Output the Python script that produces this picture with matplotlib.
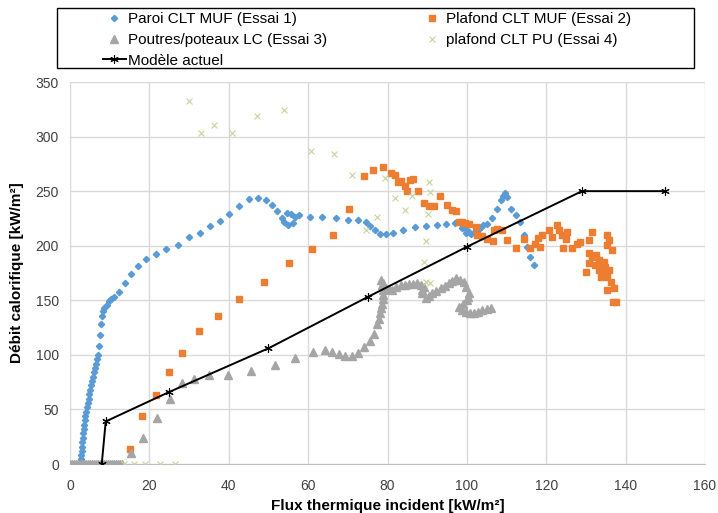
import matplotlib.pyplot as plt
from matplotlib.patches import Rectangle

plt.rcParams['font.family'] = ['Liberation Sans', 'DejaVu Sans']

# -------------------- Data --------------------
# Essai 1 : Paroi CLT MUF
essai1_x = [0, 0.5, 1, 1.5, 2, 2.4, 2.6, 2.7, 2.8, 2.9, 3.0, 3.1, 3.2, 3.3, 3.5, 3.6, 3.8, 3.9,
            4.1, 4.3, 4.5, 4.7, 4.9, 5.1, 5.3, 5.5, 5.8, 6.0, 6.3, 6.5, 6.8, 7.1, 7.3, 7.5, 7.7,
            8.0, 8.3, 8.6, 9.2, 9.8, 10.4, 11.1, 12.3, 13.9, 15.4, 17.2, 19.2, 21.6, 24.3, 27.1,
            30, 32.7, 35.3, 37.8, 40, 42.5, 45.1, 47.4, 49.3, 51, 52.2, 53.5, 54.7, 55.8, 56.6,
            56.2, 55, 54, 57.7, 60.4, 63.6, 66.9, 70.1, 72.6, 74.5, 75.7, 76.8, 78.1, 79.5, 81.3,
            84, 87, 89.8, 92.4, 94.8, 97, 98.8, 99.7, 100.9, 102.2, 103.5, 105.1, 99, 100, 101,
            102, 103, 104, 106.4, 107.6, 108.5, 109.2, 109.7, 110.2, 111, 112.3, 113.5, 114.4,
            115.2, 115.8, 116.9]
essai1_y = [0, 0, 0, 0, 0, 0, 2, 5, 8, 12, 16, 20, 24, 28, 32, 36, 40, 44,
            48, 52, 56, 60, 64, 68, 72, 76, 80, 84, 88, 92, 96, 100, 108, 118, 128,
            136, 140, 143, 146, 149, 151, 153, 158, 166, 174, 181, 188, 192, 197, 201,
            208, 212, 218, 223, 229, 236, 242.5, 244, 242, 237, 232, 225, 229.6, 229, 226,
            221, 219, 222, 228, 226.5, 226, 225.5, 224, 224, 222, 218, 214, 211, 211, 212,
            214.5, 217, 218.5, 219, 220, 221, 216, 212, 212, 214, 217, 220, 218, 214, 211,
            213, 215, 219, 225, 234, 242, 246, 248.5, 245, 234, 228, 222, 210,
            199, 190, 182]

# Essai 2 : Plafond CLT MUF
essai2_x = [15.1, 18.2, 21.6, 24.9, 28.3, 32.5, 37.3, 42.6, 49, 55.2, 61, 66.2, 70.4, 74, 76.4,
            78.8, 80.8, 81.8, 82.6, 83.5, 84.4, 85, 85.6, 86.5, 87.7, 89.2, 90.4, 91.7, 93.2,
            94.9, 96.3, 97.3, 98, 98.8, 99.5, 100.5, 102.3, 102.6, 103.9, 105, 106.7, 106.8,
            107.6, 108.9, 110.2, 112.3, 114.3, 115.9, 117.2, 118, 118.4, 119, 120.7, 121.5,
            122.7, 123.2, 124, 124.9, 125.3, 124.2, 126.5, 127.8, 128.6, 130.7, 131.6, 130.7,
            131.6, 132.6, 133.2, 133.7, 134.5, 134.9, 132.4, 133.2, 134.5, 135.8, 133.7, 135.3,
            136.2, 135.3, 137, 136.8, 137.6, 135.3, 136.6, 135.3, 135.9, 129.9, 130.7]
essai2_y = [14, 44, 63, 84, 102, 122, 136, 151, 167, 184, 197, 210, 234, 264, 269,
            272, 267, 265, 258, 259, 255, 250, 260, 261, 250, 239, 236, 236, 246,
            237, 233, 232, 222, 222, 221, 220, 217, 210, 209, 206.6, 204, 214,
            215.6, 214, 205, 197.5, 206, 198, 202, 207, 199, 209.7, 214, 208,
            219, 214, 209.7, 206.6, 212.7, 197.5, 197.5, 202, 203.5, 205, 212.7, 193,
            190, 191.4, 186.8, 182.2, 185, 180.7, 182.2, 177.7, 174.6, 177.7, 171.6, 171.6,
            167, 159, 161, 148.6, 148.6, 200.5, 196, 209.7, 205, 176, 183.8]

# Essai 3 : Poutres/poteaux LC
essai3_x = [0, 0.5, 1, 1.5, 2, 2.5, 3, 3.5, 4, 4.5, 5, 5.5, 6, 6.5, 7, 7.5, 8, 8.5, 9, 9.5,
            10, 10.5, 11, 11.5, 12, 12.5, 13, 15.3, 18.5, 22, 25.2, 28.3, 31.2, 35, 39.9, 45.7,
            51.6, 56.8, 61.3, 64.2, 66.1, 67.8, 69.3, 71, 72.6, 74.2, 75.5, 76.6, 77.4, 77.8,
            78.1, 78.4, 78.7, 78.9, 78.9, 78.8, 78.7, 78.3, 78.9, 79.5, 80.3, 81.2, 82.2, 83.3,
            84.3, 85.4, 86.5, 87.5, 88.4, 89.2, 88.8, 88.8, 89.6, 90.4, 91.3, 92.3, 93.4, 94.5,
            95.5, 96.3, 97.2, 98.2, 99.2, 99.9, 100.5, 100.3, 100.1, 99, 98, 98.8, 99.7, 100.7,
            101.8, 102.8, 103.9, 105, 106]
essai3_y = [0, 0, 0, 0, 0, 0, 0, 0, 0, 0, 0, 0, 0, 0, 0, 0, 0, 0, 0, 0,
            0, 0, 0, 0, 0, 0, 0, 10, 24, 42, 60, 74, 78, 81.5, 81.5, 85,
            90.7, 96.8, 102.6, 104.4, 103, 100.7, 99, 99, 101.4, 107.4, 112.6, 118.8, 128, 133,
            138.6, 143, 147, 151, 154.8, 159, 164, 168.5, 166, 161, 160, 159.3, 162, 164,
            164, 164.8, 165, 166, 164, 162.4, 159, 156.3, 151.7, 154, 156.3, 158.5, 161, 163,
            165.5, 168, 170, 168.5, 167, 162, 156.3, 153, 150.2, 147, 144, 141, 139.5, 138.5,
            138, 139.5, 141, 142, 142.6]

# Essai 4 : plafond CLT PU
essai4_x = [13.6, 16.1, 18.9, 22.7, 26.4, 30, 33.1, 36.4, 40.7, 47, 53.9, 60.6, 66.5, 71.1,
            74.5, 77.4, 79.3, 81.8, 84.4, 86.2, 89.6, 89.2, 89.6, 90.3, 90.4, 90.8, 90.8]
essai4_y = [0, 0, 0, 0, 0, 333, 303, 311, 303, 319, 324, 287, 284, 265,
            214, 226.5, 262, 244, 232.6, 246, 167, 185, 204.5, 228.6, 258, 249, 165.5]

# Modèle actuel
modele_x = [8, 9, 25, 50, 75, 100, 129, 150]
modele_y = [0, 39, 66, 106, 153, 199, 250, 250]

# -------------------- Figure --------------------
fig = plt.figure(figsize=(7.18, 5.13), dpi=100)
ax = fig.add_axes([70 / 718, 1 - 464 / 513, 635 / 718, 382 / 513])

h1, = ax.plot(essai1_x, essai1_y, ls='none', marker='D', ms=3.2, color='#5B9BD5',
              label='Paroi CLT MUF (Essai 1)', zorder=3)
h2, = ax.plot(essai2_x, essai2_y, ls='none', marker='s', ms=4.5, color='#ED7D31',
              label='Plafond CLT MUF (Essai 2)', zorder=3)
h3, = ax.plot(essai3_x, essai3_y, ls='none', marker='^', ms=5.5, color='#A5A5A5',
              label='Poutres/poteaux LC (Essai 3)', zorder=3)
h4, = ax.plot(essai4_x, essai4_y, ls='none', marker='x', ms=5, mew=0.8, color='#C3D69B',
              label='plafond CLT PU (Essai 4)', zorder=3)
h5, = ax.plot(modele_x, modele_y, color='black', lw=1.4, marker=(6, 2, 0), ms=6, mew=0.8,
              label='Modèle actuel', zorder=4)

ax.set_xlim(0, 160)
ax.set_ylim(0, 350)
ax.set_xticks(range(0, 161, 20))
ax.set_yticks(range(0, 351, 50))
ax.grid(True, color='#D9D9D9', lw=1)
ax.set_axisbelow(True)
for s in ['top', 'right', 'left']:
    ax.spines[s].set_visible(False)
ax.spines['bottom'].set_color('#BFBFBF')
ax.tick_params(length=0, labelsize=10, colors='#404040')
ax.tick_params(axis='x', pad=11)
ax.tick_params(axis='y', pad=8)

ax.set_xlabel('Flux thermique incident [kW/m²]', fontsize=11, fontweight='bold', labelpad=4)
ax.set_ylabel('Débit calorifique [kW/m²]', fontsize=11, fontweight='bold', labelpad=8)

# legend (box drawn separately, Excel style)
leg = fig.legend(handles=[h1, h3, h5, h2, h4], loc='upper left', ncol=2,
                 bbox_to_anchor=(103 / 718, 1 - 12 / 513),
                 fontsize=11, frameon=False,
                 handlelength=1.5, handletextpad=0.15, labelspacing=0.45,
                 columnspacing=6.1, borderpad=0, borderaxespad=0)
fig.add_artist(Rectangle((57 / 718, 1 - 68 / 513), 637 / 718, 60 / 513,
                         transform=fig.transFigure, fill=False, ec='black', lw=1))

fig.savefig('out.png', dpi=100)
